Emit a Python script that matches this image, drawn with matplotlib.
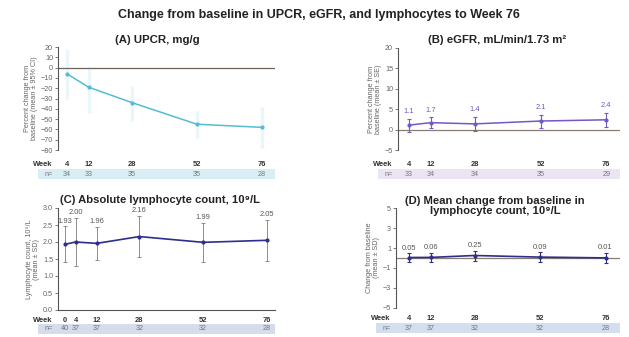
import matplotlib
matplotlib.use('Agg')
import matplotlib.pyplot as plt
from matplotlib.patches import Rectangle

plt.rcParams['font.family'] = ['Liberation Sans', 'DejaVu Sans']

# ---- data ----
upcr_weeks = [4, 12, 28, 52, 76]
upcr_mean = [-6, -19, -34, -55, -58]
upcr_lo = [-30, -44, -52, -68, -78]
upcr_hi = [18, 2, -18, -42, -38]
upcr_n = ['34', '33', '35', '35', '28']

egfr_weeks = [4, 12, 28, 52, 76]
egfr_mean = [1.1, 1.7, 1.4, 2.1, 2.4]
egfr_se = [1.6, 1.3, 1.8, 1.6, 1.7]
egfr_lbl = ['1.1', '1.7', '1.4', '2.1', '2.4']
egfr_n = ['33', '34', '34', '35', '29']

lym_weeks = [0, 4, 12, 28, 52, 76]
lym_mean = [1.93, 2.00, 1.96, 2.16, 1.99, 2.05]
lym_sd = [0.53, 0.70, 0.49, 0.61, 0.58, 0.61]
lym_lbl = ['1.93', '2.00', '1.96', '2.16', '1.99', '2.05']
lym_n = ['40', '37', '37', '32', '32', '28']

chg_weeks = [4, 12, 28, 52, 76]
chg_mean = [0.05, 0.06, 0.25, 0.09, 0.01]
chg_sd = [0.45, 0.45, 0.5, 0.5, 0.5]
chg_lbl = ['0.05', '0.06', '0.25', '0.09', '0.01']
chg_n = ['37', '37', '32', '32', '28']

W, H = 629, 337
fig = plt.figure(figsize=(W / 100, H / 100), dpi=100)
fig.patch.set_facecolor('white')


def px_axes(x0, x1, ytop, ybot):
    return fig.add_axes([x0 / W, 1 - ybot / H, (x1 - x0) / W, (ybot - ytop) / H])


def style(ax, ylabel):
    for s in ['top', 'right', 'bottom']:
        ax.spines[s].set_visible(False)
    ax.spines['left'].set_color('#555555')
    ax.spines['left'].set_linewidth(0.8)
    ax.set_xticks([])
    ax.tick_params(axis='y', labelsize=5.2, colors='#666666', length=2, width=0.6, pad=1.5)
    ax.set_ylabel(ylabel, fontsize=5.2, color='#666666', labelpad=2, linespacing=1.0)
    ax.set_facecolor('none')


def week_rows(ax, weeks, ns, band_color, dy_week, dy_n, band_left=-0.09):
    hpx = ax.get_position().height * H
    yw = -dy_week / hpx
    yn = -dy_n / hpx
    tr = ax.get_xaxis_transform()
    ax.add_patch(Rectangle((band_left, yn - 5 / hpx), 1 - band_left, 10 / hpx,
                           transform=ax.transAxes, color=band_color, clip_on=False,
                           zorder=0, lw=0))
    ax.text(-0.025, yw, 'Week', transform=ax.transAxes, ha='right', va='center',
            fontsize=5.4, fontweight='bold', color='#333333', clip_on=False)
    ax.text(-0.025, yn, 'n=', transform=ax.transAxes, ha='right', va='center',
            fontsize=5.2, color='#777777', clip_on=False)
    for wk, n in zip(weeks, ns):
        ax.text(wk, yw, str(wk), transform=tr, ha='center', va='center',
                fontsize=5.4, fontweight='bold', color='#333333', clip_on=False)
        ax.text(wk, yn, n, transform=tr, ha='center', va='center',
                fontsize=5.2, color='#777777', clip_on=False)


fig.text(319 / W, 1 - 15 / H, 'Change from baseline in UPCR, eGFR, and lymphocytes to Week 76',
         ha='center', va='center', fontsize=9, fontweight='bold', color='#222222')

# ---- (A) UPCR ----
axA = px_axes(58, 275, 47, 150)
style(axA, 'Percent change from\nbaseline (mean \u00b1 95% CI)')
axA.set_xlim(0.7, 80.8)
axA.set_ylim(-80, 20)
axA.set_yticks(range(-80, 21, 10))
axA.axhline(0, color='#6e6259', lw=0.9, zorder=1)
cA = '#55bcd2'
axA.vlines(upcr_weeks, upcr_lo, upcr_hi, color=cA, alpha=0.12, lw=2.5)
axA.plot(upcr_weeks, upcr_mean, color=cA, lw=1.1, marker='o', ms=2, zorder=3)
fig.text(157 / W, 1 - 40 / H, '(A) UPCR, mg/g', ha='center', va='center',
         fontsize=8.2, fontweight='bold', color='#222222')
week_rows(axA, upcr_weeks, upcr_n, '#d8eef4', 14, 24)

# ---- (B) eGFR ----
axB = px_axes(398, 620, 48, 150)
style(axB, 'Percent change from\nbaseline (mean \u00b1 SE)')
axB.set_xlim(0, 81)
axB.set_ylim(-5, 20)
axB.set_yticks(range(-5, 21, 5))
axB.axhline(0, color='#8a7c70', lw=0.9, zorder=1)
cB = '#7458c4'
axB.errorbar(egfr_weeks, egfr_mean, yerr=egfr_se, color=cB, lw=1.1, marker='o', ms=2,
             elinewidth=0.8, capsize=1.5, capthick=0.8, zorder=3)
for wk, m, s, t in zip(egfr_weeks, egfr_mean, egfr_se, egfr_lbl):
    axB.text(wk, m + s + 0.9, t, ha='center', va='bottom', fontsize=5.4, color=cB)
fig.text(497 / W, 1 - 40 / H, '(B) eGFR, mL/min/1.73 m\u00b2', ha='center', va='center',
         fontsize=8.2, fontweight='bold', color='#222222')
week_rows(axB, egfr_weeks, egfr_n, '#ebe4f3', 14, 24)

# ---- (C) lymphocyte count ----
axC = px_axes(58, 275, 208, 310)
style(axC, 'Lymphocyte count, 10\u2079/L\n(mean \u00b1 SD)')
axC.spines['bottom'].set_visible(True)
axC.spines['bottom'].set_color('#555555')
axC.spines['bottom'].set_linewidth(0.8)
axC.set_xlim(-2.6, 79)
axC.set_ylim(0, 3.0)
axC.set_yticks([0, 0.5, 1.0, 1.5, 2.0, 2.5, 3.0])
axC.set_yticklabels(['0.0', '0.5', '1.0', '1.5', '2.0', '2.5', '3.0'])
cC = '#2d2f8c'
axC.errorbar(lym_weeks, lym_mean, yerr=lym_sd, fmt='none', ecolor='#8c8c8c',
             elinewidth=0.7, capsize=1.5, capthick=0.7, zorder=2)
axC.plot(lym_weeks, lym_mean, color=cC, lw=1.2, marker='o', ms=2, zorder=3)
for wk, m, s, t in zip(lym_weeks, lym_mean, lym_sd, lym_lbl):
    axC.text(wk, m + s + 0.05, t, ha='center', va='bottom', fontsize=5.4, color='#555555')
fig.text(160 / W, 1 - 200 / H, '(C) Absolute lymphocyte count, 10\u2079/L', ha='center',
         va='center', fontsize=8.1, fontweight='bold', color='#222222')
week_rows(axC, lym_weeks, lym_n, '#d5dcea', 10, 19)

# ---- (D) change in lymphocyte count ----
axD = px_axes(396, 620, 208, 308)
style(axD, 'Change from baseline\n(mean \u00b1 SD)')
axD.set_xlim(-0.8, 81.3)
axD.set_ylim(-5, 5)
axD.set_yticks([-5, -3, -1, 1, 3, 5])
axD.axhline(0, color='#8a7c70', lw=0.9, zorder=1)
axD.errorbar(chg_weeks, chg_mean, yerr=chg_sd, color=cC, lw=1.2, marker='o', ms=2,
             elinewidth=0.8, capsize=1.5, capthick=0.8, zorder=3)
for wk, m, s, t in zip(chg_weeks, chg_mean, chg_sd, chg_lbl):
    axD.text(wk, m + s + 0.15, t, ha='center', va='bottom', fontsize=5.4, color='#555555')
fig.text(495 / W, 1 - 206 / H, '(D) Mean change from baseline in\nlymphocyte count, 10\u2079/L',
         ha='center', va='center', fontsize=8.1, fontweight='bold', color='#222222',
         linespacing=1.05)
week_rows(axD, chg_weeks, chg_n, '#d3deef', 11, 20)

fig.savefig('out.png', dpi=100)
